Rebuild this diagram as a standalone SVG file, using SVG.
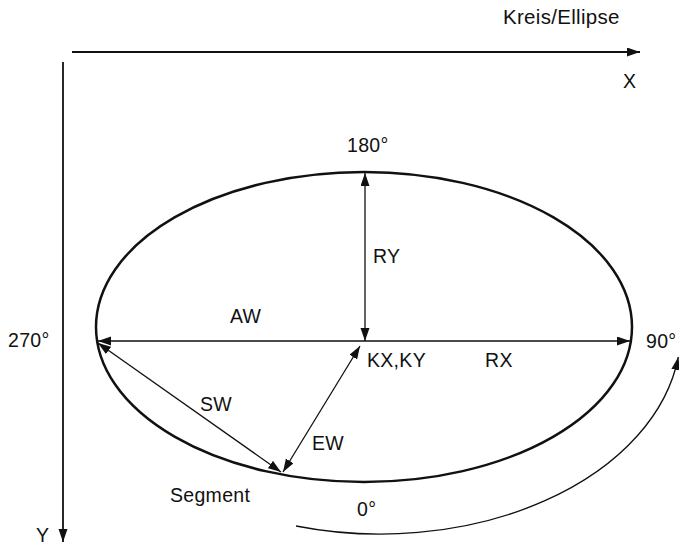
<svg xmlns="http://www.w3.org/2000/svg" width="679" height="546" viewBox="0 0 679 546">
<style>
text{font-family:"Liberation Sans",Arial,sans-serif;font-size:19.5px;fill:#111;letter-spacing:0.3px}
.ln{stroke:#111;stroke-width:1.3;fill:none}
.ax{stroke:#111;stroke-width:1.8;fill:none}
.el{stroke:#111;stroke-width:2.5;fill:none}
</style>
<defs>
<marker id="ah" markerUnits="userSpaceOnUse" markerWidth="14" markerHeight="10" refX="13" refY="4.5" orient="auto-start-reverse">
<path d="M0,0 L13,4.5 L0,9 z" fill="#111"/>
</marker>
</defs>
<rect width="679" height="546" fill="#fff"/>
<g id="axes">
<line class="ax" x1="72" y1="52" x2="640" y2="52" marker-end="url(#ah)"/>
<line class="ax" x1="63" y1="62" x2="63" y2="542" marker-end="url(#ah)"/>
</g>
<g id="ellipse">
<ellipse class="el" cx="364" cy="327" rx="268" ry="155"/>
</g>
<g id="connectors">
<line class="ln" x1="365" y1="341" x2="365" y2="173" marker-start="url(#ah)" marker-end="url(#ah)"/>
<line class="ln" x1="98" y1="341" x2="630" y2="341" marker-start="url(#ah)" marker-end="url(#ah)"/>
<line class="ln" x1="98" y1="343" x2="281" y2="472" marker-start="url(#ah)" marker-end="url(#ah)"/>
<line class="ln" x1="283" y1="472" x2="360" y2="346" marker-start="url(#ah)" marker-end="url(#ah)"/>
<path class="ln" d="M296,526 A301,204 0 0 0 678.3,357" marker-end="url(#ah)"/>
</g>
<g id="labels">
<text x="503" y="24" style="font-size:20.5px">Kreis/Ellipse</text>
<text x="623" y="88">X</text>
<text x="36" y="542">Y</text>
<text x="347" y="152">180°</text>
<text x="8" y="347">270°</text>
<text x="646" y="348">90°</text>
<text x="357" y="516">0°</text>
<text x="373" y="263">RY</text>
<text x="230" y="323">AW</text>
<text x="367" y="367">KX,KY</text>
<text x="485" y="367">RX</text>
<text x="200" y="411">SW</text>
<text x="312" y="450">EW</text>
<text x="170" y="502">Segment</text>
</g>
</svg>
